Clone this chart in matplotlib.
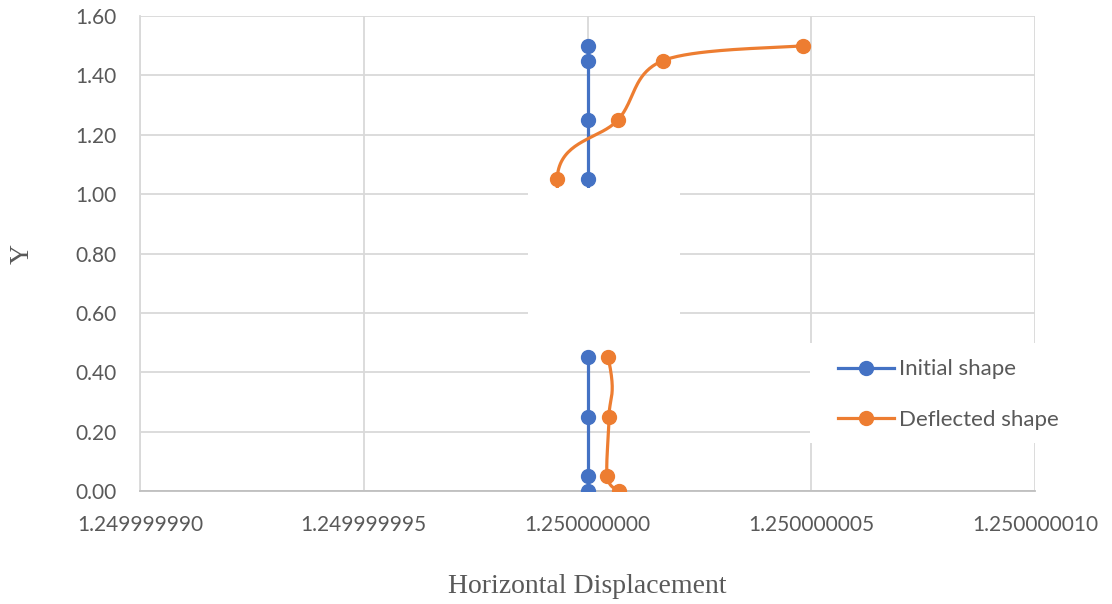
import matplotlib
matplotlib.use("Agg")
import matplotlib.pyplot as plt
import numpy as np
from matplotlib.patches import Rectangle
from matplotlib.ticker import FormatStrFormatter

# column positions along the height
y_pos = [0.00, 0.05, 0.25, 0.45, 1.05, 1.25, 1.45, 1.50]
x_initial = [1.25, 1.25, 1.25, 1.25, 1.25, 1.25, 1.25, 1.25]
x_deflected = [1.2500000007, 1.25000000044, 1.25000000048, 1.25000000046,
               1.24999999932, 1.25000000068, 1.25000000169, 1.25000000481]

x_ticks = [1.24999999, 1.249999995, 1.25, 1.250000005, 1.25000001]
y_ticks = [0.0, 0.2, 0.4, 0.6, 0.8, 1.0, 1.2, 1.4, 1.6]

BLUE = "#4472C4"
ORANGE = "#ED7D31"
GRID = "#D9D9D9"
TXT = "#595959"


def smooth_curve(ax, xs, ys, n=40, t=1.0 / 6):
    # cubic bezier through the points, built in display space
    pts = ax.transData.transform(np.column_stack([xs, ys]))
    out = [pts[0]]
    m = len(pts)
    for i in range(m - 1):
        p0 = pts[max(i - 1, 0)]
        p1 = pts[i]
        p2 = pts[i + 1]
        p3 = pts[min(i + 2, m - 1)]
        c1 = p1 + (p2 - p0) * t
        c2 = p2 - (p3 - p1) * t
        s = np.linspace(0, 1, n)[1:, None]
        seg = ((1 - s) ** 3) * p1 + 3 * ((1 - s) ** 2) * s * c1 \
            + 3 * (1 - s) * s ** 2 * c2 + s ** 3 * p2
        out.extend(seg)
    back = ax.transData.inverted().transform(np.array(out))
    return back[:, 0], back[:, 1]


fig = plt.figure(figsize=(11.12, 6.04), dpi=100)
ax = fig.add_axes([0.1259, 0.187, 0.8049, 0.7865])
ax.set_xlim(x_ticks[0], x_ticks[-1])
ax.set_ylim(0, 1.6)
ax.set_xticks(x_ticks)
ax.set_yticks(y_ticks)
ax.xaxis.set_major_formatter(FormatStrFormatter("%.9f"))
ax.yaxis.set_major_formatter(FormatStrFormatter("%.2f"))

ax.grid(True, color=GRID, linewidth=1.3)
ax.set_axisbelow(True)
for s in ["top", "right"]:
    ax.spines[s].set_visible(False)
ax.spines["left"].set_color(GRID)
ax.spines["left"].set_linewidth(1.3)
ax.spines["bottom"].set_color("#BFBFBF")
ax.spines["bottom"].set_linewidth(1.3)
ax.tick_params(length=0, pad=17, labelsize=15, labelcolor=TXT)
for lab in ax.get_xticklabels() + ax.get_yticklabels():
    lab.set_fontfamily("Lato")

# lines first, markers on top so the blank panel hides only the lines
ax.plot(x_initial, y_pos, color=BLUE, lw=2.3, zorder=3)
ax.plot(x_initial, y_pos, color=BLUE, lw=0, marker="o", ms=10, zorder=6)
sx, sy = smooth_curve(ax, x_deflected, y_pos)
ax.plot(sx, sy, color=ORANGE, lw=2.3, zorder=3)
ax.plot(x_deflected, y_pos, color=ORANGE, lw=0, marker="o", ms=10, zorder=6)
ax.plot([], [], color=BLUE, lw=2.3, marker="o", ms=10, label="Initial shape")
ax.plot([], [], color=ORANGE, lw=2.3, marker="o", ms=10, label="Deflected shape")

# blank panel in the middle of the plot
ax.add_patch(Rectangle((1.24999999867, 0.47), 3.4e-9, 0.552,
                       facecolor="white", edgecolor="none", zorder=5))

# legend sits on a white block
ax.add_patch(Rectangle((0.749, 0.101), 0.253, 0.211, transform=ax.transAxes,
                       facecolor="white", edgecolor="none", zorder=5,
                       clip_on=False))
leg = ax.legend(loc="upper left", bbox_to_anchor=(0.78, 0.277), frameon=False,
                prop={"family": "Lato", "size": 16}, handlelength=2.5,
                handletextpad=0.22, labelspacing=1.37, borderaxespad=0,
                borderpad=0)
leg.set_zorder(7)
for txt in leg.get_texts():
    txt.set_color(TXT)

ax.set_xlabel("Horizontal Displacement", family="Liberation Serif",
              fontsize=20, color=TXT, labelpad=28)
ax.set_ylabel("Y", family="Liberation Serif", fontsize=20, color=TXT,
              labelpad=29)

fig.savefig("out.png", dpi=100)
